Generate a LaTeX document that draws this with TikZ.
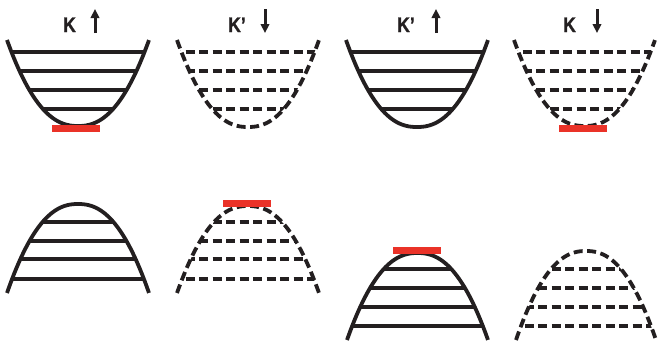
\documentclass[tikz,border=0pt]{standalone}
\usepackage{fontspec}
\setmainfont{Liberation Sans}
\newfontfamily\lblfont{Liberation Sans Bold}[FakeBold=1.2]
\usetikzlibrary{arrows.meta}
\definecolor{ink}{HTML}{231F20}
\definecolor{barred}{HTML}{EA3228}
\tikzset{
  curve/.style={line width=3.8pt, draw=ink},
  level/.style={line width=3.1pt, draw=ink},
  dashline/.style={dash pattern=on 9pt off 4.5pt},
  redbar/.style={fill=barred, draw=none},
  lbl/.style={font=\lblfont\fontsize{21}{21}\selectfont, text=ink, inner sep=0pt, anchor=base west, xscale=0.84, transform shape},
  spin/.style={line width=3pt, draw=ink, -{Triangle[length=9pt,width=8.5pt]}},
}
% #1 L, #2 R, #3 end y, #4 apex y
\newcommand\myshape[4]{plot[domain=-1:1, samples=60, smooth] ({(#1+#2)/2+(#2-#1)/2*\x},{#4+(#3-#4)*pow(abs(\x),2.3)})}
% #5 extra style, #6 level ys
\newcommand\myband[6]{%
  \begin{scope}
    \clip \myshape{#1}{#2}{#3}{#4} -- cycle;
    \foreach \yy in {#6} \draw[level,#5] ({#1-5},\yy) -- ({#2+5},\yy);
  \end{scope}
  \draw[curve,#5] \myshape{#1}{#2}{#3}{#4};
}
\begin{document}
\begin{tikzpicture}[x=1pt,y=-1pt]
\useasboundingbox (0,0) rectangle (658,341);
% top row
\myband{7}{149}{40}{126}{}{52,71,90,109}
\myband{177}{319}{40}{127}{dashline}{52,71,90,109}
\myband{346}{488}{40}{127}{}{52,71,90,109}
\myband{514}{655}{40}{126}{dashline}{52,71,90,109}
% bottom row
\myband{7}{149}{293}{204}{}{222,241,259,279}
\myband{177}{319}{293}{206}{dashline}{222,241,259,279}
\myband{347}{488}{340}{253}{}{269,288,307,326}
\myband{516}{656}{340}{251}{dashline}{269,288,307,326}
% red bars
\fill[redbar] (52,125) rectangle (100,132);
\fill[redbar] (559,125) rectangle (607,132);
\fill[redbar] (223,200) rectangle (271,207);
\fill[redbar] (393,247) rectangle (441,254);
% labels
\node[lbl] (l1) at (63,32) {K};
\node[lbl] (l2) at (228,32) {K’};
\node[lbl] (l3) at (397,32) {K’};
\node[lbl] (l4) at (563,32) {K};
\coordinate (a1s) at (95,33); \coordinate (a1e) at (95,9);
\coordinate (a2s) at (265,9); \coordinate (a2e) at (265,33);
\coordinate (a3s) at (436,33); \coordinate (a3e) at (436,9);
\coordinate (a4s) at (597,9); \coordinate (a4e) at (597,33);
\draw[spin] (a1s) -- (a1e);
\draw[spin] (a2s) -- (a2e);
\draw[spin] (a3s) -- (a3e);
\draw[spin] (a4s) -- (a4e);
\end{tikzpicture}
\end{document}
